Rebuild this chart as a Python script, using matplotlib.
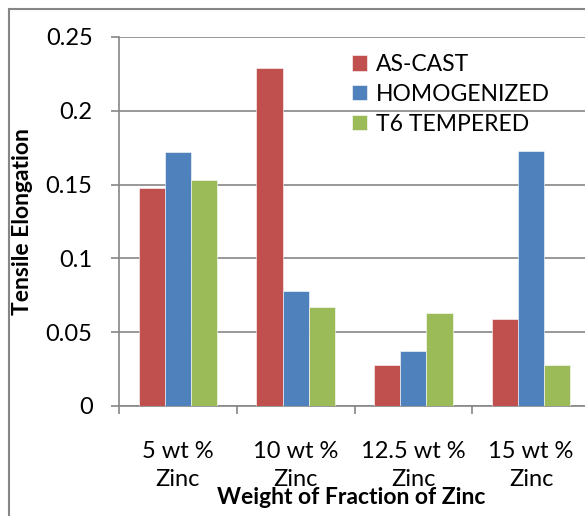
import matplotlib
matplotlib.use('Agg')
import matplotlib.pyplot as plt
import numpy as np
from matplotlib.lines import Line2D

plt.rcParams['font.family'] = ['Lato', 'DejaVu Sans']

categories = ['5 wt %\nZinc', '10 wt %\nZinc', '12.5 wt %\nZinc', '15 wt %\nZinc']
as_cast = [0.148, 0.229, 0.028, 0.059]
homogenized = [0.172, 0.078, 0.037, 0.173]
t6_tempered = [0.153, 0.067, 0.063, 0.028]
series_names = ['AS-CAST', 'HOMOGENIZED', 'T6 TEMPERED']
colors = ['#C0504D', '#4F81BD', '#9BBB59']

W, H = 585, 516
fig = plt.figure(figsize=(W/100, H/100), dpi=100)
fig.patch.set_facecolor('white')

# plot area in pixels (right side runs past the picture edge, like the source crop)
x0, x1, ytop, ybot = 119, 590, 37, 406
ax = fig.add_axes([x0/W, (H-ybot)/H, (x1-x0)/W, (ybot-ytop)/H])

n = len(categories)
x = np.arange(n)
bw = 1/4.5  # excel gap width 150%
for k, (vals, nm) in enumerate(zip([as_cast, homogenized, t6_tempered], series_names)):
	ax.bar(x + (k-1)*bw, vals, width=bw, color=colors[k], label=nm, zorder=3,
		edgecolor='white', linewidth=0.4)

gray = '#868686'
ax.set_xlim(-0.5, n-0.5)
ax.set_ylim(0, 0.25)
ax.set_yticks([0, 0.05, 0.1, 0.15, 0.2, 0.25])
ax.set_yticklabels(['0', '0.05', '0.1', '0.15', '0.2', '0.25'])
ax.yaxis.grid(True, color=gray, linewidth=1.2, zorder=0)
ax.set_xticks(np.arange(n+1) - 0.5)
ax.set_xticklabels([])
ax.set_xticks(x, minor=True)
ax.set_xticklabels(categories, minor=True, fontsize=17, linespacing=1.45)
ax.tick_params(axis='x', which='minor', length=0, pad=25)
ax.tick_params(axis='x', which='major', length=6, width=1.2, color=gray, direction='out')
ax.tick_params(axis='y', length=6, width=1.2, color=gray, labelsize=17, pad=13)
for s in ['top', 'right']:
	ax.spines[s].set_visible(False)
for s in ['left', 'bottom']:
	ax.spines[s].set_color(gray)
	ax.spines[s].set_linewidth(1.2)

ax.set_ylabel('Tensile Elongation', fontsize=16.5, fontweight='bold')
ax.yaxis.set_label_coords((33-x0)/(x1-x0), 0.5)
fig.text(351/W, 1-498/H, 'Weight of Fraction of Zinc', fontsize=16.5, fontweight='bold',
	ha='center', va='center')

ax.legend(loc='upper left', bbox_to_anchor=((343-x0)/(x1-x0), (ybot-45)/(ybot-ytop)),
	frameon=False, fontsize=16.5, handlelength=0.65, handleheight=0.65,
	handletextpad=0.4, labelspacing=0.38, borderaxespad=0)

# outer chart border (left and top visible)
fig.add_artist(Line2D([9/W, 9/W], [0, 1-9/H], color=gray, linewidth=1.5))
fig.add_artist(Line2D([9/W, 1], [1-9/H, 1-9/H], color=gray, linewidth=1.5))

fig.savefig('out.png', dpi=100)
